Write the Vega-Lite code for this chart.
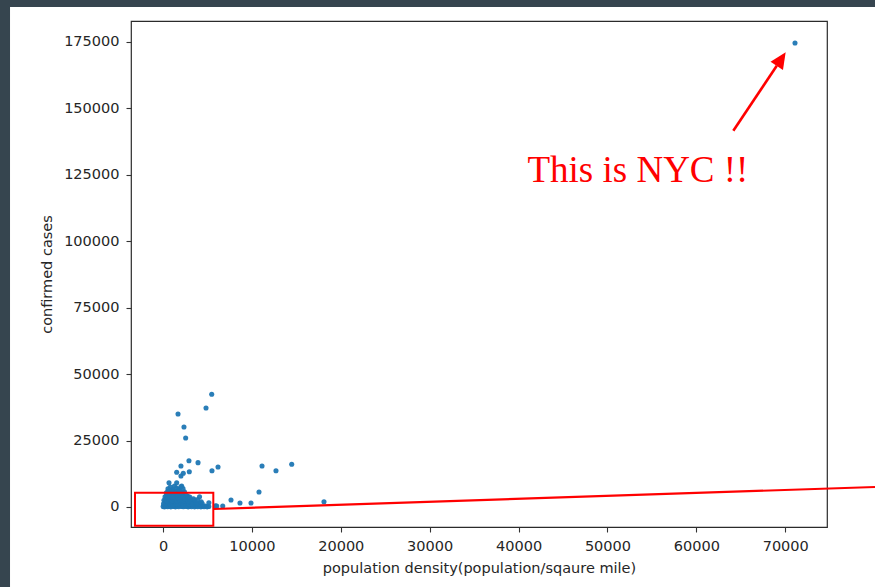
{
  "$schema": "https://vega.github.io/schema/vega-lite/v6.json",
  "width": 696,
  "height": 506,
  "autosize": {"type": "none"},
  "padding": {"left": 131, "top": 21, "right": 48, "bottom": 60},
  "background": "white",
  "config": {
    "view": {"stroke": "#2b2b2b", "strokeWidth": 1.2},
    "axis": {
      "grid": false,
      "domain": false,
      "ticks": true,
      "tickSize": 5,
      "tickColor": "#333",
      "tickWidth": 1.1,
      "labelFont": "DejaVu Sans",
      "labelFontSize": 14.5,
      "labelColor": "#262626",
      "labelPadding": 7,
      "titleFont": "DejaVu Sans",
      "titleFontSize": 14.5,
      "titleFontWeight": "normal",
      "titleColor": "#262626"
    }
  },
  "datasets": {
    "counties": [
      {"x": 20, "y": 150}, {"x": 180, "y": 40}, {"x": 350, "y": 420}, {"x": 520, "y": 90}, {"x": 700, "y": 310},
      {"x": 880, "y": 60}, {"x": 1050, "y": 500}, {"x": 1230, "y": 220}, {"x": 1400, "y": 30}, {"x": 1590, "y": 380},
      {"x": 1760, "y": 120}, {"x": 1940, "y": 560}, {"x": 2110, "y": 200}, {"x": 2300, "y": 70}, {"x": 2480, "y": 450},
      {"x": 2650, "y": 160}, {"x": 2830, "y": 20}, {"x": 3010, "y": 340}, {"x": 3200, "y": 110}, {"x": 3370, "y": 520},
      {"x": 3550, "y": 60}, {"x": 3730, "y": 290}, {"x": 3900, "y": 140}, {"x": 4090, "y": 430}, {"x": 4260, "y": 30},
      {"x": 4440, "y": 250}, {"x": 4620, "y": 100}, {"x": 4800, "y": 380}, {"x": 4970, "y": 60}, {"x": 5150, "y": 200},
      {"x": 60, "y": 1200}, {"x": 250, "y": 1650}, {"x": 430, "y": 1080}, {"x": 610, "y": 1500}, {"x": 790, "y": 1350},
      {"x": 960, "y": 1720}, {"x": 1150, "y": 1010}, {"x": 1320, "y": 1580}, {"x": 1500, "y": 1240}, {"x": 1680, "y": 1800},
      {"x": 1860, "y": 1150}, {"x": 2040, "y": 1490}, {"x": 2220, "y": 1320}, {"x": 2400, "y": 1700}, {"x": 2580, "y": 1060},
      {"x": 2760, "y": 1440}, {"x": 2950, "y": 1210}, {"x": 3130, "y": 1760}, {"x": 3310, "y": 1100}, {"x": 3490, "y": 1380},
      {"x": 3680, "y": 1620}, {"x": 3860, "y": 1190}, {"x": 4050, "y": 1450}, {"x": 4230, "y": 1000}, {"x": 4410, "y": 1300},
      {"x": 110, "y": 2500}, {"x": 300, "y": 2950}, {"x": 490, "y": 2300}, {"x": 680, "y": 3100}, {"x": 860, "y": 2650},
      {"x": 1040, "y": 2400}, {"x": 1220, "y": 3050}, {"x": 1410, "y": 2780}, {"x": 1590, "y": 2250}, {"x": 1770, "y": 3180},
      {"x": 1950, "y": 2600}, {"x": 2130, "y": 2900}, {"x": 2320, "y": 2350}, {"x": 2500, "y": 3050}, {"x": 2690, "y": 2700},
      {"x": 2870, "y": 2250}, {"x": 3050, "y": 2850}, {"x": 3240, "y": 2480}, {"x": 3420, "y": 3100}, {"x": 3600, "y": 2600},
      {"x": 230, "y": 3800}, {"x": 420, "y": 4300}, {"x": 600, "y": 3600}, {"x": 790, "y": 4100}, {"x": 970, "y": 3900},
      {"x": 1160, "y": 4450}, {"x": 1340, "y": 3700}, {"x": 1530, "y": 4200}, {"x": 1710, "y": 3550}, {"x": 1900, "y": 4380},
      {"x": 2080, "y": 3850}, {"x": 2270, "y": 4150}, {"x": 2450, "y": 3600}, {"x": 2640, "y": 4400}, {"x": 2820, "y": 3950},
      {"x": 3010, "y": 3700},
      {"x": 380, "y": 5300}, {"x": 560, "y": 5900}, {"x": 750, "y": 5100}, {"x": 930, "y": 5700}, {"x": 1120, "y": 6100},
      {"x": 1300, "y": 5400}, {"x": 1490, "y": 5850}, {"x": 1670, "y": 5200}, {"x": 1860, "y": 6000}, {"x": 2040, "y": 5500},
      {"x": 2230, "y": 5150}, {"x": 2410, "y": 5750},
      {"x": 560, "y": 6800}, {"x": 820, "y": 7500}, {"x": 1060, "y": 6600}, {"x": 1290, "y": 7900}, {"x": 1530, "y": 7100},
      {"x": 1780, "y": 6700}, {"x": 2010, "y": 7600}, {"x": 2250, "y": 6900},
      {"x": 675, "y": 9150}, {"x": 1540, "y": 9150}, {"x": 2100, "y": 7900}, {"x": 1540, "y": 13060}, {"x": 2280, "y": 12680},
      {"x": 2960, "y": 13290}, {"x": 2020, "y": 11670},
      {"x": 4110, "y": 3870}, {"x": 4300, "y": 1990}, {"x": 5160, "y": 1610}, {"x": 5910, "y": 490}, {"x": 3900, "y": 2800},
      {"x": 5480, "y": 42420}, {"x": 4840, "y": 37260}, {"x": 1690, "y": 35000}, {"x": 2360, "y": 30110}, {"x": 2550, "y": 25970},
      {"x": 2920, "y": 17430}, {"x": 3940, "y": 16680}, {"x": 2020, "y": 15430}, {"x": 5510, "y": 13660}, {"x": 6190, "y": 15050},
      {"x": 11140, "y": 15430}, {"x": 12710, "y": 13660}, {"x": 14480, "y": 16070}, {"x": 10800, "y": 5650}, {"x": 7650, "y": 2630},
      {"x": 8660, "y": 1510}, {"x": 9900, "y": 1510}, {"x": 6040, "y": 380}, {"x": 6720, "y": 380}, {"x": 18110, "y": 1990},
      {"x": 71100, "y": 174600}
    ],
    "frame_strips": [
      {"x": -40000, "x2": -17210, "y": -40000, "y2": 400000},
      {"x": -40000, "x2": 95000, "y": 188180, "y2": 400000}
    ],
    "nyc_label": [{"x": 53430, "y": 122300, "label": "This is NYC !!"}],
    "arrow_shaft": [{"x": 64160, "y": 141630, "x2": 69050, "y2": 166050}],
    "arrow_head": [{"x": 70050, "y": 171130}],
    "zoom_box": [{"x": -3150, "x2": 5660, "y": 5380, "y2": -7040}],
    "zoom_pointer": [{"x": 5660, "y": -750, "x2": 80100, "y2": 7530}]
  },
  "encoding": {
    "x": {
      "field": "x",
      "type": "quantitative",
      "title": "population density(population/sqaure mile)",
      "scale": {"domain": [-3600, 74700], "nice": false, "zero": false},
      "axis": {"values": [0, 10000, 20000, 30000, 40000, 50000, 60000, 70000], "format": "d", "titlePadding": 9}
    },
    "y": {
      "field": "y",
      "type": "quantitative",
      "title": "confirmed cases",
      "scale": {"domain": [-7530, 182900], "nice": false, "zero": false},
      "axis": {"values": [0, 25000, 50000, 75000, 100000, 125000, 150000, 175000], "format": "d", "titlePadding": 9}
    }
  },
  "layer": [
    {
      "data": {"name": "frame_strips"},
      "mark": {"type": "rect", "fill": "#36454f", "clip": false},
      "encoding": {"x2": {"field": "x2"}, "y2": {"field": "y2"}}
    },
    {
      "data": {"name": "counties"},
      "mark": {"type": "point", "filled": true, "shape": "circle", "size": 26, "color": "#1f77b4", "opacity": 0.95}
    },
    {
      "data": {"name": "zoom_box"},
      "mark": {"type": "rect", "fill": null, "fillOpacity": 0, "stroke": "#ff0000", "strokeWidth": 2, "clip": false},
      "encoding": {"x2": {"field": "x2"}, "y2": {"field": "y2"}}
    },
    {
      "data": {"name": "zoom_pointer"},
      "mark": {"type": "rule", "color": "#ff0000", "strokeWidth": 2.2, "clip": false},
      "encoding": {"x2": {"field": "x2"}, "y2": {"field": "y2"}}
    },
    {
      "data": {"name": "arrow_shaft"},
      "mark": {"type": "rule", "color": "#ff0000", "strokeWidth": 2.6, "clip": false},
      "encoding": {"x2": {"field": "x2"}, "y2": {"field": "y2"}}
    },
    {
      "data": {"name": "arrow_head"},
      "mark": {"type": "point", "filled": true, "shape": "M0,0L0.46,1L-0.46,1Z", "size": 1050, "angle": 33.4, "color": "#ff0000", "opacity": 1}
    },
    {
      "data": {"name": "nyc_label"},
      "mark": {"type": "text", "font": "Liberation Serif", "fontSize": 37, "color": "#ff0000", "align": "center", "baseline": "alphabetic"},
      "encoding": {"text": {"field": "label"}}
    }
  ]
}
